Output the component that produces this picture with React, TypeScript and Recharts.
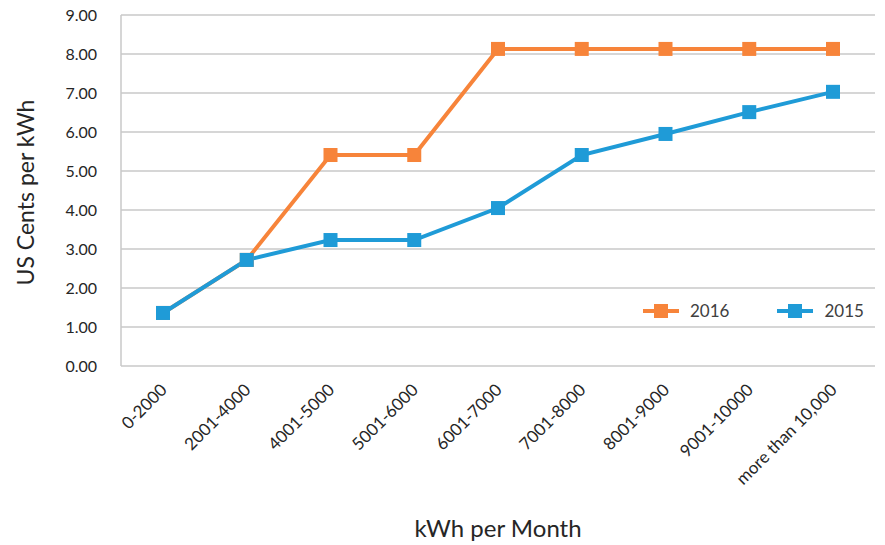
import { LineChart, Line, XAxis, YAxis, CartesianGrid } from 'recharts';

const categories = ['0-2000', '2001-4000', '4001-5000', '5001-6000', '6001-7000', '7001-8000', '8001-9000', '9001-10000', 'more than 10,000'];
const values2016 = [1.36, 2.72, 5.41, 5.41, 8.13, 8.13, 8.13, 8.13, 8.13];
const values2015 = [1.36, 2.72, 3.23, 3.23, 4.05, 5.41, 5.95, 6.51, 7.03];
const yTicks = [0, 1, 2, 3, 4, 5, 6, 7, 8, 9];
const seriesNames = ['2016', '2015'];

const ORANGE = '#F7843A';
const BLUE = '#1F9BD7';
const FONT = 'Lato, "Open Sans", sans-serif';

const data = categories.map((c, i) => ({ range: c, y2016: values2016[i], y2015: values2015[i] }));

function XTick({ x, y, payload }: any) {
  return (
    <g transform={`translate(${x + 5},${y + 17})`}>
      <text transform="rotate(-45)" textAnchor="end" fontSize={17} fill="#262626" fontFamily={FONT}>
        {payload.value}
      </text>
    </g>
  );
}

function YTitle({ viewBox }: any) {
  const cy = viewBox.y + viewBox.height / 2 + 2;
  return (
    <text
      x={34}
      y={cy}
      transform={`rotate(-90, 34, ${cy})`}
      textAnchor="middle"
      fontSize={23}
      fill="#262626"
      fontFamily={FONT}
    >
      US Cents per kWh
    </text>
  );
}

function LegendIcon({ color }: { color: string }) {
  return (
    <svg width={36} height={16} style={{ marginRight: 11 }}>
      <line x1={0} y1={8} x2={36} y2={8} stroke={color} strokeWidth={4} />
      <rect x={11} y={1} width={14} height={14} fill={color} />
    </svg>
  );
}

function LegendBox() {
  const colors = [ORANGE, BLUE];
  return (
    <div
      style={{
        position: 'absolute',
        left: 643,
        top: 300,
        display: 'flex',
        fontFamily: FONT,
        fontSize: 17,
        color: '#404040',
      }}
    >
      {seriesNames.map((n, i) => (
        <div key={n} style={{ display: 'flex', alignItems: 'center', marginRight: 48 }}>
          <LegendIcon color={colors[i]} />
          <span>{n}</span>
        </div>
      ))}
    </div>
  );
}

function SquareDot({ cx, cy, color }: any) {
  return <rect x={cx - 7} y={cy - 7} width={14} height={14} fill={color} />;
}

export default function App() {
  return (
    <div style={{ position: 'absolute', left: 0, top: 0, width: 885, height: 545, background: '#fff' }}>
      <LineChart width={885} height={545} data={data} margin={{ top: 15, right: 10, bottom: 0, left: 0 }}>
        <CartesianGrid vertical={false} stroke="#c8c8c8" strokeWidth={1.5} />
        <XAxis
          dataKey="range"
          axisLine={false}
          tickLine={false}
          interval={0}
          height={179}
          padding={{ left: 42, right: 42 }}
          tick={<XTick />}
          label={{ value: 'kWh per Month', position: 'insideBottom', offset: 8, fontSize: 24, fill: '#262626', fontFamily: FONT }}
        />
        <YAxis
          domain={[0, 9]}
          ticks={yTicks}
          width={121}
          axisLine={{ stroke: '#c8c8c8', strokeWidth: 1.5 }}
          tickLine={false}
          tickFormatter={(v: number) => v.toFixed(2)}
          tick={{ fontSize: 16, fill: '#262626', fontFamily: FONT }}
          tickMargin={18}
          label={<YTitle />}
        />
        <Line
          dataKey="y2016"
          name={seriesNames[0]}
          stroke={ORANGE}
          strokeWidth={4}
          dot={<SquareDot color={ORANGE} />}
          isAnimationActive={false}
        />
        <Line
          dataKey="y2015"
          name={seriesNames[1]}
          stroke={BLUE}
          strokeWidth={4}
          dot={<SquareDot color={BLUE} />}
          isAnimationActive={false}
        />
      </LineChart>
      <LegendBox />
    </div>
  );
}
